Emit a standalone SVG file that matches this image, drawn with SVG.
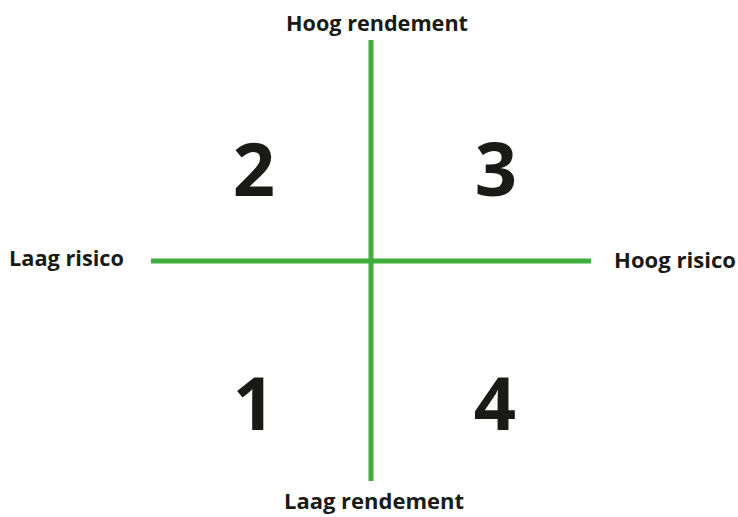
<svg xmlns="http://www.w3.org/2000/svg" width="738" height="517" viewBox="0 0 738 517">
<style>
.axis{stroke:#3fae3f;stroke-width:5;fill:none}
.lbl{font-family:"Open Sans","Liberation Sans",sans-serif;font-weight:700;font-size:20.5px;fill:#1a1a17}
.num{font-family:"Open Sans","Liberation Sans",sans-serif;font-weight:700;font-size:74px;fill:#1a1a17;text-anchor:middle}
</style>
<rect width="738" height="517" fill="#fff"/>
<g id="connectors">
<line class="axis" x1="371" y1="40" x2="371" y2="481"/>
<line class="axis" x1="151" y1="261" x2="591" y2="261"/>
</g>
<g id="label-top"><text class="lbl" x="286" y="31" textLength="182" lengthAdjust="spacingAndGlyphs">Hoog rendement</text></g>
<g id="label-bottom"><text class="lbl" x="284" y="509" textLength="180" lengthAdjust="spacingAndGlyphs">Laag rendement</text></g>
<g id="label-left"><text class="lbl" x="9" y="266" textLength="115" lengthAdjust="spacingAndGlyphs">Laag risico</text></g>
<g id="label-right"><text class="lbl" x="614" y="268" textLength="122" lengthAdjust="spacingAndGlyphs">Hoog risico</text></g>
<g id="q2"><text class="num" x="254" y="196">2</text></g>
<g id="q3"><text class="num" x="496" y="196">3</text></g>
<g id="q1"><text class="num" x="254" y="430">1</text></g>
<g id="q4"><text class="num" x="495" y="430">4</text></g>
</svg>
